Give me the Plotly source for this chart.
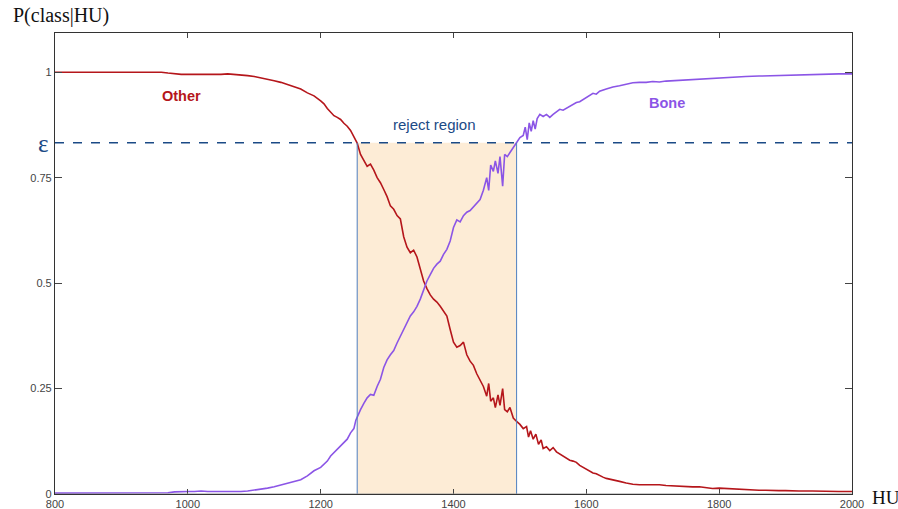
import plotly.graph_objects as go

# ---- data ----
other_hu = [800, 850, 900, 950, 960, 970, 980, 990, 1000, 1010, 1020, 1030, 1040, 1050, 1060, 1070, 1080,
            1090, 1100, 1110, 1120, 1130, 1140, 1150, 1160, 1170, 1180, 1190, 1200, 1205, 1210, 1215,
            1220, 1225, 1230, 1235, 1240, 1245, 1250, 1255, 1260, 1265, 1270, 1275, 1280, 1285, 1290,
            1295, 1300, 1305, 1310, 1315, 1320, 1325, 1330, 1335, 1340, 1345, 1350, 1355, 1360, 1365,
            1370, 1375, 1380, 1385, 1390, 1395, 1400, 1405, 1410, 1415, 1420, 1425, 1430, 1435, 1440,
            1445, 1450, 1453, 1456, 1460, 1463, 1467, 1470, 1474, 1477, 1481, 1485, 1490, 1495, 1500,
            1505, 1510, 1513, 1516, 1520, 1524, 1528, 1532, 1535, 1540, 1545, 1550, 1555, 1560, 1565,
            1570, 1575, 1580, 1585, 1590, 1595, 1600, 1605, 1610, 1615, 1620, 1625, 1630, 1640, 1650,
            1660, 1670, 1680, 1690, 1700, 1710, 1720, 1730, 1740, 1750, 1760, 1770, 1780, 1790, 1800,
            1810, 1820, 1830, 1840, 1850, 1860, 1870, 1880, 1890, 1900, 1910, 1920, 1940, 1960, 1980, 2000]
other_p = [1.0, 1.0, 1.0, 1.0, 1.0, 0.998, 0.996, 0.995, 0.995, 0.995, 0.994, 0.995, 0.995, 0.995, 0.996, 0.995, 0.994,
           0.992, 0.99, 0.987, 0.984, 0.98, 0.976, 0.971, 0.965, 0.96, 0.951, 0.944, 0.932, 0.925, 0.914, 0.906,
           0.897, 0.893, 0.888, 0.879, 0.872, 0.862, 0.848, 0.832, 0.805, 0.79, 0.777, 0.782, 0.768, 0.75, 0.738,
           0.722, 0.705, 0.683, 0.675, 0.66, 0.652, 0.61, 0.585, 0.572, 0.578, 0.562, 0.535, 0.505, 0.487, 0.472,
           0.462, 0.455, 0.445, 0.432, 0.422, 0.39, 0.36, 0.348, 0.352, 0.36, 0.33, 0.315, 0.305, 0.285, 0.27,
           0.255, 0.232, 0.262, 0.22, 0.228, 0.205, 0.235, 0.21, 0.25, 0.2, 0.195, 0.205, 0.18, 0.172, 0.165,
           0.155, 0.16, 0.135, 0.15, 0.13, 0.142, 0.118, 0.128, 0.108, 0.112, 0.103, 0.11, 0.1, 0.095, 0.088,
           0.085, 0.08, 0.078, 0.075, 0.068, 0.063, 0.058, 0.055, 0.05, 0.048, 0.043, 0.04, 0.037, 0.034, 0.03,
           0.026, 0.023, 0.022, 0.022, 0.021, 0.022, 0.02, 0.019, 0.018, 0.018, 0.017, 0.017, 0.015, 0.013, 0.014,
           0.013, 0.012, 0.011, 0.01, 0.01, 0.009, 0.009, 0.008, 0.008, 0.008, 0.007, 0.007, 0.007, 0.006, 0.006, 0.006]

bone_hu = [800, 850, 900, 950, 960, 970, 980, 990, 1000, 1010, 1020, 1030, 1040, 1050, 1060, 1070, 1080,
           1090, 1100, 1110, 1120, 1130, 1140, 1150, 1160, 1170, 1180, 1190, 1200, 1205, 1210, 1215, 1220,
           1225, 1230, 1235, 1240, 1245, 1250, 1253, 1257, 1260, 1265, 1270, 1275, 1280, 1285, 1290, 1295,
           1300, 1305, 1310, 1315, 1320, 1325, 1330, 1335, 1340, 1345, 1350, 1355, 1360, 1365, 1370, 1375,
           1380, 1385, 1390, 1395, 1400, 1405, 1410, 1415, 1420, 1425, 1430, 1435, 1440, 1445, 1450, 1453,
           1456, 1460, 1463, 1467, 1470, 1474, 1477, 1481, 1485, 1490, 1495, 1500, 1505, 1508, 1511, 1514,
           1517, 1520, 1523, 1526, 1530, 1535, 1540, 1545, 1550, 1555, 1560, 1565, 1570, 1575, 1580, 1585,
           1590, 1595, 1600, 1605, 1610, 1615, 1620, 1630, 1640, 1650, 1660, 1670, 1680, 1690, 1700, 1710,
           1720, 1730, 1740, 1750, 1760, 1770, 1780, 1790, 1800, 1820, 1840, 1860, 1880, 1900, 1920, 1940,
           1960, 1980, 2000]
bone_p = [0.002, 0.002, 0.002, 0.002, 0.002, 0.003, 0.005, 0.006, 0.006, 0.006, 0.007, 0.006, 0.006, 0.006, 0.005, 0.005, 0.006,
          0.007, 0.009, 0.011, 0.014, 0.017, 0.021, 0.025, 0.029, 0.034, 0.043, 0.055, 0.063, 0.07, 0.078, 0.09, 0.098,
          0.106, 0.113, 0.122, 0.13, 0.145, 0.155, 0.175, 0.19, 0.2, 0.215, 0.228, 0.236, 0.234, 0.255, 0.272, 0.3,
          0.318, 0.33, 0.34, 0.358, 0.375, 0.39, 0.408, 0.422, 0.432, 0.445, 0.462, 0.482, 0.505, 0.52, 0.535, 0.545,
          0.552, 0.568, 0.58, 0.6, 0.632, 0.65, 0.645, 0.66, 0.668, 0.672, 0.68, 0.69, 0.698, 0.72, 0.75, 0.72,
          0.78, 0.765, 0.79, 0.76, 0.8, 0.73, 0.805, 0.8, 0.81, 0.822, 0.835, 0.845, 0.85, 0.87, 0.84, 0.88,
          0.86, 0.885, 0.865, 0.89, 0.9, 0.895, 0.9, 0.893, 0.9, 0.905, 0.912, 0.91, 0.915, 0.92, 0.925, 0.928,
          0.93, 0.935, 0.94, 0.943, 0.95, 0.948, 0.955, 0.96, 0.965, 0.968, 0.972, 0.975, 0.976, 0.976, 0.978, 0.977,
          0.979, 0.98, 0.981, 0.982, 0.983, 0.983, 0.985, 0.986, 0.987, 0.988, 0.99, 0.991, 0.992, 0.993, 0.994, 0.995,
          0.995, 0.996, 0.996]

epsilon = 0.833
reject_lo, reject_hi = 1255, 1495
x_ticks = [800, 1000, 1200, 1400, 1600, 1800, 2000]
y_ticks = [0, 0.25, 0.5, 0.75, 1]
y_tick_text = ["0", "0.25", "0.5", "0.75", "1"]

RED = "#b5161b"
PURPLE = "#8b55e6"
NAVY = "#1b4a86"

# body margin is removed by post_script, so the figure fills the window
W, H = 898, 509
L, R, T, B = 55, 852, 33, 494

def px_x(x):
    return (x - L) / (R - L)

def px_y(y):
    return (B - y) / (B - T)

fig = go.Figure()
fig.add_trace(go.Scatter(x=other_hu, y=other_p, mode="lines", line=dict(color=RED, width=1.6),
                         name="Other", showlegend=False))
fig.add_trace(go.Scatter(x=bone_hu, y=bone_p, mode="lines", line=dict(color=PURPLE, width=1.6),
                         name="Bone", showlegend=False))

# reject region
fig.add_shape(type="rect", x0=reject_lo, x1=reject_hi, y0=0, y1=epsilon, xref="x", yref="y",
              fillcolor="#fdecd6", line=dict(width=0), layer="below")
for xv in (reject_lo, reject_hi):
    fig.add_shape(type="line", x0=xv, x1=xv, y0=0, y1=epsilon, xref="x", yref="y",
                  line=dict(color="#4f7fbf", width=1))
fig.add_shape(type="line", x0=800, x1=2000, y0=epsilon, y1=epsilon, xref="x", yref="y",
              line=dict(color=NAVY, width=1.5, dash="dash"))
# grey bottom axis line
fig.add_shape(type="line", x0=800, x1=2000, y0=0, y1=0, xref="x", yref="y",
              line=dict(color="#9a9a9a", width=1.2))

fig.add_annotation(x=990, y=0.943, text="<b>Other</b>", showarrow=False,
                   xanchor="center", yanchor="middle",
                   font=dict(family="Arial, Liberation Sans", size=14.5, color=RED))
fig.add_annotation(x=1722, y=0.926, text="<b>Bone</b>", showarrow=False,
                   xanchor="center", yanchor="middle",
                   font=dict(family="Arial, Liberation Sans", size=14.5, color=PURPLE))
fig.add_annotation(x=1372, y=0.877, text="reject region", showarrow=False,
                   xanchor="center", yanchor="middle",
                   font=dict(family="Arial, Liberation Sans", size=15, color=NAVY))
fig.add_annotation(x=px_x(43), y=px_y(143), xref="paper", yref="paper", text="ε", showarrow=False,
                   xanchor="center", yanchor="middle",
                   font=dict(family="Liberation Serif, Times New Roman", size=25, color=NAVY))
fig.add_annotation(x=px_x(11), y=px_y(15), xref="paper", yref="paper", text="P(class|HU)", showarrow=False,
                   xanchor="left", yanchor="middle",
                   font=dict(family="Liberation Serif, Times New Roman", size=20, color="#111"))
fig.add_annotation(x=px_x(870), y=px_y(497), xref="paper", yref="paper", text="HU", showarrow=False,
                   xanchor="left", yanchor="middle",
                   font=dict(family="Liberation Serif, Times New Roman", size=19, color="#111"))

fig.update_layout(
    width=W, height=H,
    margin=dict(l=L, r=W - R, t=T, b=H - B, pad=0),
    plot_bgcolor="white", paper_bgcolor="white",
    showlegend=False,
    xaxis=dict(range=[800, 2000], tickvals=x_ticks, ticks="inside", ticklen=5, tickcolor="#444",
               showline=True, linecolor="#333", linewidth=1.2, mirror="ticks", showgrid=False,
               zeroline=False, automargin=False,
               tickfont=dict(family="Arial, Liberation Sans", size=11, color="#444")),
    yaxis=dict(range=[0, 1.093], tickvals=y_ticks, ticktext=y_tick_text, ticks="inside", ticklen=7,
               tickcolor="#444", showline=True, linecolor="#333", linewidth=1.2, mirror="ticks",
               showgrid=False, zeroline=False, automargin=False,
               tickfont=dict(family="Arial, Liberation Sans", size=11, color="#444")),
)

fig.write_html("out.html",
               config={"displayModeBar": False},
               post_script="document.body.style.margin='0';document.body.style.overflow='hidden';")
